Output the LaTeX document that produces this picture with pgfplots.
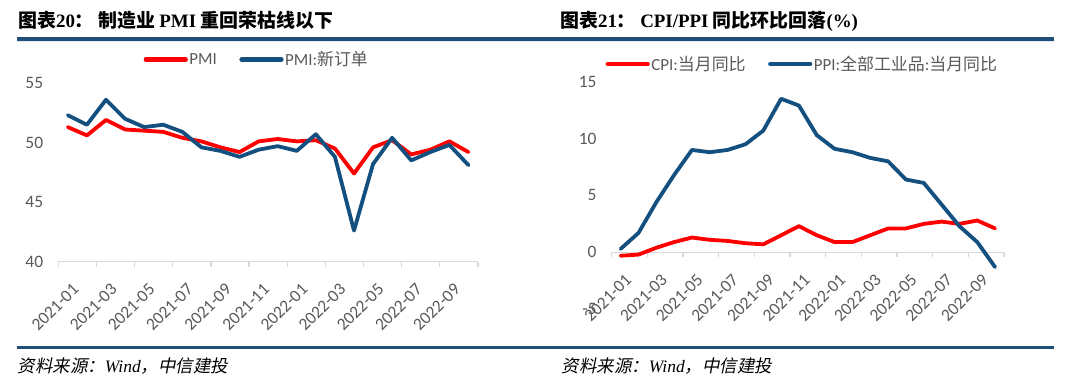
\documentclass[border=0pt]{standalone}
\usepackage{fontspec}
\usepackage{pgfplots}
\pgfplotsset{compat=1.18}
\setmainfont{Carlito}
\newfontfamily\cjk{Noto Sans CJK SC}
\newfontfamily\cjki{Noto Sans CJK SC}[FakeSlant=0.2]
\newfontfamily\tnr{Liberation Serif}
\definecolor{myred}{HTML}{FF0000}
\definecolor{myblue}{HTML}{13507F}
\definecolor{rulec}{HTML}{1F4E79}
\definecolor{ticktxt}{HTML}{595959}
\definecolor{axisgray}{HTML}{D9D9D9}

\pgfplotsset{
  mystyle/.style={
    scale only axis,
    xmin=-0.5, xmax=21.5,
    xtick={0,2,...,20},
    xticklabels={2021-01,2021-03,2021-05,2021-07,2021-09,2021-11,2022-01,2022-03,2022-05,2022-07,2022-09},
    minor xtick={-0.5,1.5,...,21.5},
    minor tick length=5bp,
    major tick length=0pt,
    tick align=outside,
    major x tick style={draw=none},
    minor x tick style={draw=axisgray, line width=1.2bp},
    ytick style={draw=none},
    y axis line style={draw=none},
    x axis line style={draw=axisgray, line width=1.2bp, -},
    /pgf/number format/assume math mode=true,
    tick label style={font=\fontsize{17.5}{20}\selectfont, text=ticktxt},
    x tick label style={xshift=8bp, yshift=-25bp, rotate=45, anchor=east, inner sep=0pt},
    y tick label style={inner sep=0pt, xshift=-15bp},
    legend style={draw=none, fill=none, inner sep=0pt, font=\fontsize{17}{20}\selectfont, text=ticktxt,
      legend columns=2, nodes={inner sep=1.5bp},
      /tikz/every even column/.append style={column sep=21bp}},
    legend image code/.code={\draw[##1, line width=4.2bp, line cap=round] (1bp,0bp) -- (41bp,0bp);},
    legend image post style={line width=4.2bp},
    every axis plot/.append style={line width=3.8bp, line join=round, line cap=round},
  }
}

\begin{document}
\begin{tikzpicture}
\path[use as bounding box] (0bp,0bp) rectangle (1080bp,386bp);

% titles
\node[anchor=base west, inner sep=0pt, font=\fontsize{19}{22}\selectfont] at (18bp,358.5bp)
  {{\cjk\bfseries 图表}{\tnr\bfseries 20}{\cjk\bfseries ：\ 制造业 }{\tnr\bfseries PMI}{\cjk\bfseries\ 重回荣枯线以下}};
\node[anchor=base west, inner sep=0pt, font=\fontsize{19}{22}\selectfont] at (560bp,358.5bp)
  {{\cjk\bfseries 图表}{\tnr\bfseries 21}{\cjk\bfseries ：\ }{\tnr\bfseries CPI/PPI}{\cjk\bfseries\ 同比环比回落}{\tnr\bfseries (\%)}};

% rules
\fill[rulec] (17bp,345.3bp) rectangle (1054bp,348.7bp);
\draw[color=rulec!12, line width=0.8bp] (17bp,344.2bp) -- (1054bp,344.2bp);
\fill[rulec] (17bp,37.4bp) rectangle (1054bp,40bp);

% sources
\node[anchor=base west, inner sep=0pt, font=\fontsize{17.5}{20}\selectfont] at (17.5bp,14bp)
  {{\cjki 资料来源：}{\tnr\itshape Wind}{\cjki ，中信建投}};
\node[anchor=base west, inner sep=0pt, font=\fontsize{17.5}{20}\selectfont] at (561.5bp,14bp)
  {{\cjki 资料来源：}{\tnr\itshape Wind}{\cjki ，中信建投}};

% left chart
\begin{axis}[mystyle,
  at={(58.3bp,124.5bp)}, anchor=south west,
  width=419.7bp, height=178.4bp,
  ymin=40, ymax=55, ytick={40,45,50,55},
  axis x line*=bottom, axis y line*=left,
  legend style={at={(axis description cs:0.203,1.132)}, anchor=west},
]
\addplot[myred] coordinates {
(0,51.3) (1,50.6) (2,51.9) (3,51.1) (4,51.0) (5,50.9) (6,50.4) (7,50.1) (8,49.6) (9,49.2) (10,50.1) (11,50.3)
(12,50.1) (13,50.2) (14,49.5) (15,47.4) (16,49.6) (17,50.2) (18,49.0) (19,49.4) (20,50.1) (21,49.2)};
\addlegendentry{PMI}
\addplot[myblue] coordinates {
(0,52.3) (1,51.5) (2,53.6) (3,52.0) (4,51.3) (5,51.5) (6,50.9) (7,49.6) (8,49.3) (9,48.8) (10,49.4) (11,49.7)
(12,49.3) (13,50.7) (14,48.8) (15,42.6) (16,48.2) (17,50.4) (18,48.5) (19,49.2) (20,49.8) (21,48.1)};
\addlegendentry{PMI:{\cjk 新订单}}
\end{axis}

% right chart
\begin{axis}[mystyle,
  at={(611.7bp,76.8bp)}, anchor=south west,
  width=392.3bp, height=227.5bp,
  ymin=-5, ymax=15, ytick={-5,0,5,10,15},
  axis x line*=middle, axis y line*=left,
  legend style={at={(axis description cs:-0.016,1.078)}, anchor=west},
]
\addplot[myred] coordinates {
(0,-0.3) (1,-0.2) (2,0.4) (3,0.9) (4,1.3) (5,1.1) (6,1.0) (7,0.8) (8,0.7) (9,1.5) (10,2.3) (11,1.5)
(12,0.9) (13,0.9) (14,1.5) (15,2.1) (16,2.1) (17,2.5) (18,2.7) (19,2.5) (20,2.8) (21,2.1)};
\addlegendentry{CPI:{\cjk 当月同比}}
\addplot[myblue] coordinates {
(0,0.3) (1,1.7) (2,4.4) (3,6.8) (4,9.0) (5,8.8) (6,9.0) (7,9.5) (8,10.7) (9,13.5) (10,12.9) (11,10.3)
(12,9.1) (13,8.8) (14,8.3) (15,8.0) (16,6.4) (17,6.1) (18,4.2) (19,2.3) (20,0.9) (21,-1.3)};
\addlegendentry{PPI:{\cjk 全部工业品}:{\cjk 当月同比}}
\end{axis}
\end{tikzpicture}
\end{document}
